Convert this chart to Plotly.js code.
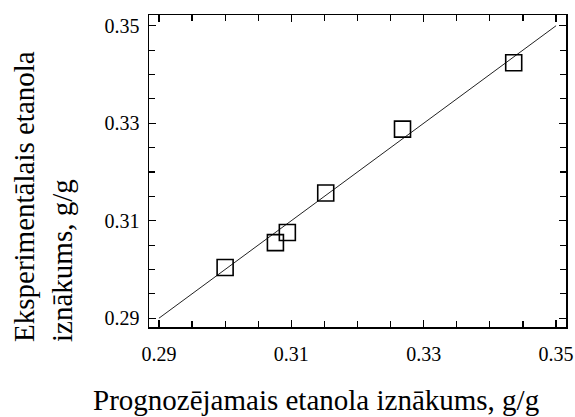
<!DOCTYPE html>
<html>
<head>
<meta charset="utf-8">
<script src="https://cdn.plot.ly/plotly-3.0.1.min.js"></script>
</head>
<body style="margin:0;background:#fff">
<div id="chart"></div>
<script>
// Predicted (x) vs experimental (y) ethanol yield, g/g
const predicted = [0.3000, 0.3076, 0.3094, 0.3152, 0.3268, 0.3436];
const experimental = [0.3004, 0.3055, 0.3076, 0.3157, 0.3288, 0.3424];
const fitX = [0.29, 0.35];
const fitY = [0.29, 0.35];
const tickVals = [0.29, 0.31, 0.33, 0.35];
const tickText = ['0.29', '0.31', '0.33', '0.35'];
const xTitle = 'Prognozējamais etanola iznākums, g/g';
const yTitle = 'Eksperimentālais etanola<br>iznākums, g/g';

const FONT = 'Liberation Serif';

function axis(range, standoff) {
  return {
    range: range,
    showgrid: false, zeroline: false,
    showline: true, linecolor: '#000', linewidth: 1.5, mirror: 'ticks',
    ticks: 'inside', ticklen: 7, tickwidth: 1.2, tickcolor: '#000',
    tickmode: 'array', tickvals: tickVals, ticktext: tickText,
    tickfont: {family: FONT, size: 20, color: '#000'},
    ticklabelstandoff: standoff,
    minor: {ticks: 'inside', dtick: 0.005, ticklen: 6, tickwidth: 1.2, tickcolor: '#000', showgrid: false}
  };
}

const data = [
  {x: fitX, y: fitY, mode: 'lines', line: {color: '#222', width: 1}, hoverinfo: 'skip', showlegend: false},
  {x: predicted, y: experimental, mode: 'markers',
   marker: {symbol: 'square-open', size: 16, color: '#000', line: {width: 1.6, color: '#000'}}, showlegend: false}
];

const layout = {
  width: 575, height: 417,
  margin: {l: 149, r: 9, t: 15, b: 90},
  paper_bgcolor: '#fff', plot_bgcolor: '#fff',
  showlegend: false,
  xaxis: axis([0.2885, 0.3515], 8),
  yaxis: axis([0.2882, 0.3522], 4),
  annotations: [
    {text: xTitle, xref: 'paper', yref: 'paper', x: 0.40, y: -0.234, xanchor: 'center', yanchor: 'middle',
     showarrow: false, font: {family: FONT, size: 29, color: '#000'}},
    {text: yTitle, xref: 'paper', yref: 'paper', x: -0.254, y: 0.417, xanchor: 'center', yanchor: 'middle',
     textangle: -90, align: 'left', showarrow: false, font: {family: FONT, size: 29, color: '#000'}}
  ]
};

Plotly.newPlot('chart', data, layout, {displayModeBar: false, staticPlot: true});
</script>
</body>
</html>
